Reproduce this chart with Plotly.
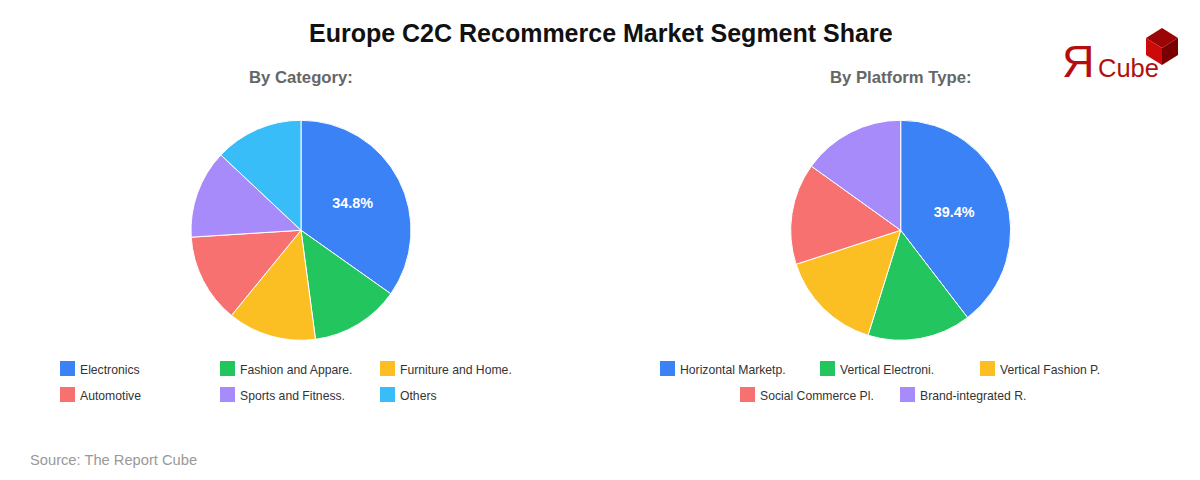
import plotly.graph_objects as go

WIDTH = 1200
HEIGHT = 480
FONT = "Liberation Sans"

category_labels = ["Electronics", "Fashion and Appare.", "Furniture and Home.",
                   "Automotive", "Sports and Fitness.", "Others"]
category_values = [34.8, 13.1, 13.0, 13.1, 13.0, 13.0]
category_text = ["34.8%", "", "", "", "", ""]
category_colors = ["#3b82f6", "#22c55e", "#fbbf24", "#f87171", "#a78bfa", "#38bdf8"]

platform_labels = ["Horizontal Marketp.", "Vertical Electroni.", "Vertical Fashion P.",
                   "Social Commerce Pl.", "Brand-integrated R."]
platform_values = [39.6, 15.2, 15.2, 14.9, 15.1]
platform_text = ["39.4%", "", "", "", ""]
platform_colors = ["#3b82f6", "#22c55e", "#fbbf24", "#f87171", "#a78bfa"]


def px(x):
    return x / WIDTH


def py(y):
    return 1 - y / HEIGHT


def add_text(fig, x, y, text, size, color, bold=False, anchor="left"):
    fig.add_annotation(
        x=px(x), y=py(y), xref="paper", yref="paper",
        text=f"<b>{text}</b>" if bold else text,
        showarrow=False, xanchor=anchor, yanchor="middle",
        borderpad=0, borderwidth=0,
        font=dict(family=FONT, size=size, color=color),
    )


def add_pie(fig, labels, values, text, colors, cx):
    fig.add_trace(go.Pie(
        labels=labels, values=values, text=text,
        textinfo="text", textposition="inside",
        insidetextorientation="horizontal",
        textfont=dict(family=FONT, size=14.4, color="#ffffff"),
        texttemplate="<b>%{text}</b>",
        marker=dict(colors=colors, line=dict(color="#ffffff", width=1)),
        sort=False, direction="clockwise", rotation=0,
        domain=dict(x=[px(cx - 110), px(cx + 110)], y=[py(340.5), py(120)]),
        showlegend=False,
    ))


def add_legend_row(fig, labels, colors, start_x, y):
    for i, (label, color) in enumerate(zip(labels, colors)):
        x = start_x + i * 160
        fig.add_shape(
            type="rect", xref="paper", yref="paper",
            x0=px(x), x1=px(x + 15), y0=py(y - 8), y1=py(y + 7),
            fillcolor=color, line_width=0,
        )
        add_text(fig, x + 20, y + 0.5, label, 12.2, "#333333")


def poly(points):
    coords = [f"{px(x)},{py(y)}" for x, y in points]
    return "M " + " L ".join(coords) + " Z"


fig = go.Figure()
add_pie(fig, category_labels, category_values, category_text, category_colors, 301)
add_pie(fig, platform_labels, platform_values, platform_text, platform_colors, 900.7)

add_text(fig, 601, 33, "Europe C2C Recommerce Market Segment Share", 25, "#111111", True, "center")
add_text(fig, 301.5, 78, "By Category:", 16.7, "#666666", True, "center")
add_text(fig, 901, 78, "By Platform Type:", 16.7, "#666666", True, "center")

# legends are centred rows under each pie
add_legend_row(fig, category_labels[:3], category_colors[:3], 60, 369)
add_legend_row(fig, category_labels[3:], category_colors[3:], 60, 395)
add_legend_row(fig, platform_labels[:3], platform_colors[:3], 660, 369)
add_legend_row(fig, platform_labels[3:], platform_colors[3:], 740, 395)

add_text(fig, 30, 459.5, "Source: The Report Cube", 14.7, "#999999")

# logo
add_text(fig, 1062, 61, "Я", 45, "#b50d0d")
add_text(fig, 1098, 67.5, "Cube", 25.5, "#b01010")
for points, color in [
    ([(1162, 28), (1178, 38), (1162, 48), (1146, 38)], "#9c0505"),
    ([(1146, 38), (1162, 48), (1162, 65), (1146, 55)], "#cc0a0a"),
    ([(1178, 38), (1162, 48), (1162, 65), (1178, 55)], "#780000"),
]:
    fig.add_shape(type="path", xref="paper", yref="paper", path=poly(points),
                  fillcolor=color, line_width=0)

fig.update_layout(
    width=WIDTH, height=HEIGHT,
    margin=dict(l=0, r=0, t=0, b=0),
    paper_bgcolor="#ffffff",
    showlegend=False,
)

# the default page margin would push the chart 8px down and right
fig.write_html("out.html", config={"displayModeBar": False},
               post_script="document.body.style.margin = '0';")
